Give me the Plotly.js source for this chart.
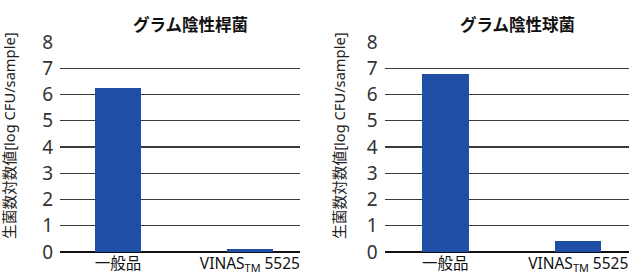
<!DOCTYPE html>
<html>
<head>
<meta charset="utf-8">
<script src="https://cdn.plot.ly/plotly-3.0.1.min.js"></script>
<style>html,body{margin:0;padding:0;background:#fff;}#chart{width:637px;height:275px;}</style>
</head>
<body>
<div id="chart"></div>
<script>
const categories = ["一般品", "VINAS<sub>TM</sub> 5525"];
const rodValues = [6.25, 0.1];
const coccusValues = [6.78, 0.43];
const panelTitles = ["グラム陰性桿菌", "グラム陰性球菌"];
const yTitle = "生菌数対数値[log CFU/sample]";
const yTicks = [0, 1, 2, 3, 4, 5, 6, 7, 8];

const barColor = "#1f4ea6";
const font = "Noto Sans, Noto Sans CJK JP, sans-serif";

const traces = [
  {type: "bar", x: categories, y: rodValues, xaxis: "x", yaxis: "y", width: 0.35,
   marker: {color: barColor}, hoverinfo: "none"},
  {type: "bar", x: categories, y: coccusValues, xaxis: "x2", yaxis: "y2", width: 0.35,
   marker: {color: barColor}, hoverinfo: "none"}
];

const yAxisBase = {
  range: [0, 8], tickvals: yTicks, showgrid: true, gridcolor: "#3a3a3a", gridwidth: 1.3,
  zeroline: true, zerolinecolor: "#111", zerolinewidth: 2, showline: false,
  ticks: "", tickfont: {family: font, size: 19, color: "#333"}, ticklabelstandoff: 6,
  domain: [0.0836, 0.847], fixedrange: true
};
const xAxisBase = {
  type: "category", range: [-0.44, 1.38], showgrid: false, zeroline: false, showline: false,
  ticks: "", tickfont: {family: font, size: 15.5, color: "#111"}, ticklabelstandoff: 0,
  fixedrange: true
};

const layout = {
  width: 637, height: 275, margin: {l: 0, r: 0, t: 0, b: 0},
  paper_bgcolor: "#fff", plot_bgcolor: "#fff", showlegend: false, bargap: 0,
  xaxis: Object.assign({}, xAxisBase, {domain: [0.0942, 0.471], anchor: "y"}),
  xaxis2: Object.assign({}, xAxisBase, {domain: [0.604, 0.987], anchor: "y2", range: [-0.455, 1.38]}),
  yaxis: Object.assign({}, yAxisBase, {anchor: "x"}),
  yaxis2: Object.assign({}, yAxisBase, {anchor: "x2"}),
  annotations: [
    {text: "<b>" + panelTitles[0] + "</b>", x: 190, y: 24,
     font: {family: font, size: 16.5, color: "#111"}},
    {text: "<b>" + panelTitles[1] + "</b>", x: 517, y: 24,
     font: {family: font, size: 16.5, color: "#111"}},
    {text: yTitle, textangle: -90, x: 9, y: 136,
     font: {family: font, size: 14.7, color: "#222"}},
    {text: yTitle, textangle: -90, x: 339, y: 136,
     font: {family: font, size: 14.7, color: "#222"}}
  ]
};
// convert pixel positions of annotations to paper coordinates
layout.annotations.forEach(a => {
  a.showarrow = false;
  a.xref = "paper"; a.yref = "paper";
  a.x = a.x / 637; a.y = 1 - a.y / 275;
  a.xanchor = "center"; a.yanchor = "middle";
});

Plotly.newPlot("chart", traces, layout, {displayModeBar: false, staticPlot: true});
</script>
</body>
</html>
